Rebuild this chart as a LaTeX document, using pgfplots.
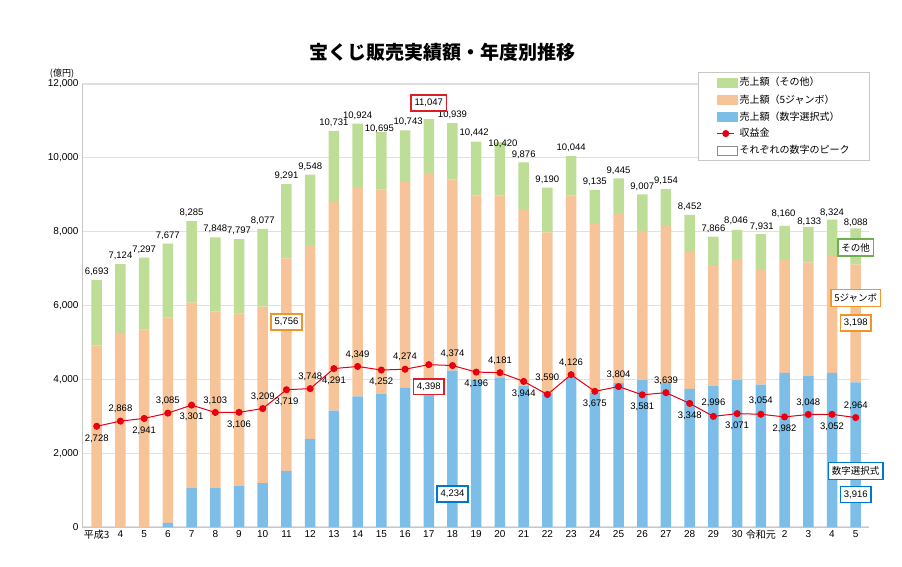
\documentclass[border=0pt]{standalone}
\usepackage{fontspec}
\setmainfont{Liberation Sans}
\newfontfamily\jp{Noto Sans CJK JP}
\usepackage{pgfplots}
\pgfplotsset{compat=1.18}
\usepackage{pgfplotstable}

\definecolor{cgreen}{RGB}{190,221,150}
\definecolor{corange}{RGB}{247,196,154}
\definecolor{cblue}{RGB}{125,190,232}
\definecolor{cred}{RGB}{230,0,18}
\definecolor{bred}{RGB}{220,30,40}
\definecolor{borange}{RGB}{240,150,40}
\definecolor{bblue}{RGB}{0,120,200}
\definecolor{bgreen}{RGB}{110,175,80}

\pgfplotstableread{
x blue orange green total tsh txs
0 0 4920 1773 6693 8 0
1 0 5260 1864 7124 8 0
2 0 5350 1947 7297 8 0
3 110 5560 2007 7677 8 0
4 1050 5030 2205 8285 8 0
5 1050 4785 2013 7848 8 0
6 1120 4660 2017 7797 8 0
7 1190 4780 2107 8077 8 0
8 1520 5756 2015 9291 8 0
9 2390 5246 1912 9548 8 0
10 3150 5650 1931 10731 8 0
11 3540 5637 1747 10924 8 0
12 3614 5525 1556 10695 3 -2
13 3769 5571 1403 10743 9 3
14 3950 5634 1463 11047 16 0
15 4234 5176 1529 10939 8 0
16 3995 4981 1466 10442 9 -2
17 4040 4936 1444 10420 -1 3
18 3813 4801 1262 9876 8 0
19 3633 4348 1209 9190 8 0
20 4040 4936 1068 10044 8 0
21 3633 4574 928 9135 8 0
22 3904 4601 940 9445 8 0
23 3976 4048 983 9007 8 0
24 3904 4256 994 9154 8 0
25 3741 3740 971 8452 8 0
26 3813 3288 765 7866 8 0
27 3976 3252 818 8046 9 -1
28 3859 3107 965 7931 7 1
29 4176 3052 932 8160 12 -1
30 4085 3080 968 8133 5 1
31 4176 3170 978 8324 7 0
32 3916 3198 974 8088 6 0
}\bars

\pgfplotstableread{
x rev pos
0 2728 -12
1 2868 12
2 2941 -12
3 3085 12
4 3301 -12
5 3103 12
6 3106 -12
7 3209 12
8 3719 -12
9 3748 12
10 4291 -12
11 4349 12
12 4252 -12
13 4274 12
14 4398 -22
15 4374 12
16 4196 -12
17 4181 12
18 3944 -12
19 3590 17
20 4126 12
21 3675 -12
22 3804 12
23 3581 -12
24 3639 12
25 3348 -12
26 2996 14
27 3071 -12
28 3054 13
29 2982 -12
30 3048 12
31 3052 -12
32 2964 12
}\rev

\pgfplotsset{
  common/.style={
    at={(82pt,39pt)}, anchor=south west,
    scale only axis, width=787pt, height=443pt,
    xmin=-0.62, xmax=32.56, ymin=0, ymax=12000,
    /pgf/number format/1000 sep={,},
    /pgf/number format/assume math mode=true,
  },
}
\tikzset{
  peakbox/.style={fill=white, line width=1.6pt, inner xsep=3.5pt, inner ysep=4pt,
    font=\fontsize{9.5}{11}\selectfont, text=black},
}

\begin{document}
\begin{tikzpicture}
\path[use as bounding box] (0pt,0pt) rectangle (902pt,566pt);

\begin{axis}[common,
  ybar stacked, bar width=10.5pt,
  axis lines*=left,
  axis line style={draw=black!22, line width=1pt},
  ymajorgrids, grid style={draw=black!12, line width=1.2pt},
  ytick={0,2000,4000,6000,8000,10000,12000},
  scaled y ticks=false,
  xtick={0,1,...,32},
  xticklabels={{\jp 平成3},4,5,6,7,8,9,10,11,12,13,14,15,16,17,18,19,20,21,22,23,24,25,26,27,28,29,30,{\jp 令和元},2,3,4,5},
  major tick length=0pt,
  tick style={draw=none},
  yticklabel style={font=\fontsize{10}{12}\selectfont},
  xticklabel style={font=\fontsize{10}{12}\selectfont},
]
\addplot[fill=cblue, draw=none] table[x=x, y=blue]{\bars};
\addplot[fill=corange, draw=none] table[x=x, y=orange]{\bars};
\addplot[fill=cgreen, draw=none] table[x=x, y=green]{\bars};
\end{axis}

\begin{axis}[common, hide axis, clip=false,
  legend style={at={(rel axis cs:1,1)}, anchor=north east, yshift=12pt, xshift=1pt,
    draw=black!22, fill=white, line width=0.8pt,
    font=\jp\fontsize{10}{12}\selectfont,
    inner xsep=18pt, inner ysep=3pt, row sep=3pt},
  legend cell align=left,
]
\addlegendimage{legend image code/.code={\fill[cgreen] (0pt,-4.5pt) rectangle (20pt,4.5pt);}}
\addlegendentry{売上額（その他）}
\addlegendimage{legend image code/.code={\fill[corange] (0pt,-4.5pt) rectangle (20pt,4.5pt);}}
\addlegendentry{売上額（5ジャンボ）}
\addlegendimage{legend image code/.code={\fill[cblue] (0pt,-4.5pt) rectangle (20pt,4.5pt);}}
\addlegendentry{売上額（数字選択式）}

\addplot[color=cred, line width=1pt, mark=*, mark size=3pt,
  mark options={fill=cred, draw=cred},
  nodes near coords, point meta=explicit,
  visualization depends on={\thisrow{pos} \as \lblshift},
  every node near coord/.append style={anchor=center, yshift=\lblshift*1pt,
    font=\fontsize{9.5}{11}\selectfont, text=black}]
  table[x=x, y=rev, meta=rev]{\rev};
\addlegendentry{収益金}

\addlegendimage{legend image code/.code={\draw[black!45, line width=0.8pt, fill=white] (0pt,-4.5pt) rectangle (20pt,4.5pt);}}
\addlegendentry{それぞれの数字のピーク}

\addplot[draw=none, mark=none, forget plot,
  nodes near coords, point meta=explicit,
  visualization depends on={\thisrow{tsh} \as \totshift},
  visualization depends on={\thisrow{txs} \as \totxshift},
  every node near coord/.append style={anchor=center, yshift=\totshift*1pt,
    xshift=\totxshift*1pt,
    font=\fontsize{9.5}{11}\selectfont, text=black}]
  table[x=x, y=total, meta=total]{\bars};

\coordinate (pk1) at (axis cs:14,11047);
\coordinate (pk2) at (axis cs:14,4398);
\coordinate (pk3) at (axis cs:8,5553);
\coordinate (pk4) at (axis cs:15,894);
\coordinate (pk5) at (axis cs:32,7570);
\coordinate (pk6) at (axis cs:32,6203);
\coordinate (pk7) at (axis cs:32,5526);
\coordinate (pk8) at (axis cs:32,1517);
\coordinate (pk9) at (axis cs:32,880);
\end{axis}

\node[peakbox, draw=bred, yshift=16pt] at (pk1) {11,047};
\node[peakbox, draw=bred, yshift=-22pt] at (pk2) {4,398};
\node[peakbox, draw=borange] at (pk3) {5,756};
\node[peakbox, draw=bblue] at (pk4) {4,234};
\node[peakbox, draw=bgreen, font=\jp\fontsize{9.5}{11}\selectfont] at (pk5) {その他};
\node[peakbox, draw=borange, font=\jp\fontsize{9.5}{11}\selectfont] at (pk6) {5ジャンボ};
\node[peakbox, draw=borange] at (pk7) {3,198};
\node[peakbox, draw=bblue, font=\jp\fontsize{9.5}{11}\selectfont] at (pk8) {数字選択式};
\node[peakbox, draw=bblue] at (pk9) {3,916};

\node[font=\jp\bfseries\fontsize{19}{22}\selectfont] at (442pt,514pt) {宝くじ販売実績額・年度別推移};
\node[font=\jp\fontsize{9}{11}\selectfont] at (62pt,492pt) {(億円)};
\end{tikzpicture}
\end{document}
